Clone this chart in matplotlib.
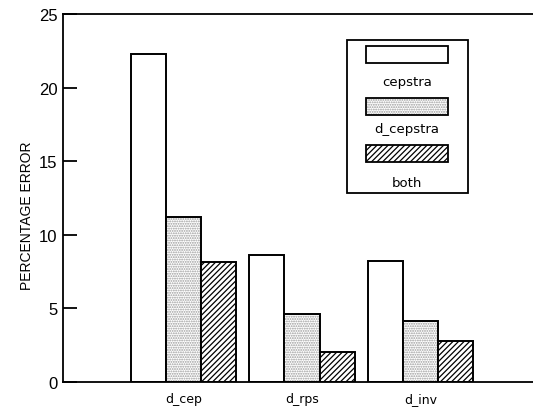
import numpy as np
import matplotlib
matplotlib.use('Agg')
import matplotlib.pyplot as plt
from matplotlib.patches import Rectangle

matplotlib.rcParams.update({'font.family': 'Liberation Sans', 'hatch.linewidth': 0.9})

groups = ['d_cep', 'd_rps', 'd_inv']
series = ['cepstra', 'd_cepstra', 'both']
cepstra = [22.3, 8.6, 8.2]
d_cepstra = [11.2, 4.6, 4.15]
both = [8.15, 2.05, 2.8]
yticks = [0, 5, 10, 15, 20, 25]

fig = plt.figure(figsize=(5.33, 4.10), dpi=100)
ax = fig.add_axes([0.118, 0.066, 0.882, 0.897])

x = np.arange(len(groups))
w = 0.297
styles = [dict(hatch=None, hc='none'),
          dict(hatch='.......', hc='#9a9a9a'),
          dict(hatch='//////', hc='black')]
for i, vals in enumerate([cepstra, d_cepstra, both]):
    pos = x + (i - 1) * w
    if styles[i]['hatch']:
        ax.bar(pos, vals, w, color='white', edgecolor=styles[i]['hc'],
               hatch=styles[i]['hatch'], linewidth=0)
    ax.bar(pos, vals, w, fill=False, edgecolor='black', linewidth=1.4)

ax.set_xlim(-1.017, 2.95)
ax.set_ylim(0, 25)
ax.set_yticks(yticks)
ax.tick_params(axis='y', direction='in', length=10, width=1.3, labelsize=12, pad=4)
ax.set_xticks(x)
ax.set_xticklabels(groups, family='DejaVu Sans', fontsize=9)
ax.tick_params(axis='x', length=0, pad=7)
ax.spines['right'].set_visible(False)
for s in ['left', 'top', 'bottom']:
    ax.spines[s].set_linewidth(1.3)

ax.text(-0.077, 0.454, 'PERCENTAGE ERROR', transform=ax.transAxes,
        rotation=90, ha='center', va='center', fontsize=10)

# legend drawn by hand: patches with the label beneath each one
ax.add_patch(Rectangle((0.604, 0.514), 0.258, 0.415, transform=ax.transAxes,
                       fill=False, edgecolor='black', linewidth=1.3, clip_on=False))
patch_tops = [0.913, 0.772, 0.644]
label_y = [0.818, 0.690, 0.543]
for i, name in enumerate(series):
    y0 = patch_tops[i] - 0.046
    if styles[i]['hatch']:
        ax.add_patch(Rectangle((0.645, y0), 0.174, 0.046, transform=ax.transAxes,
                               facecolor='white', edgecolor=styles[i]['hc'],
                               hatch=styles[i]['hatch'], linewidth=0))
    ax.add_patch(Rectangle((0.645, y0), 0.174, 0.046, transform=ax.transAxes,
                           fill=False, edgecolor='black', linewidth=1.3))
    ax.text(0.732, label_y[i], name, transform=ax.transAxes, ha='center',
            va='center', family='DejaVu Sans', fontsize=9.5)

fig.savefig('out.png', dpi=100)
